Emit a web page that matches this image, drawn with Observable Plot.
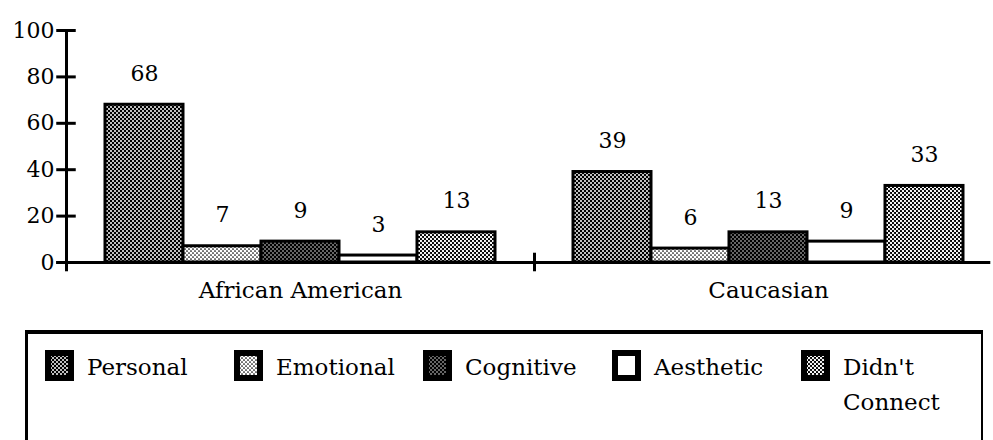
<!DOCTYPE html>
<html>
<head>
<meta charset="utf-8">
<script src="https://cdn.jsdelivr.net/npm/d3@7"></script>
<script src="https://cdn.jsdelivr.net/npm/@observablehq/plot@0.6"></script>
<style>
  html, body { margin: 0; padding: 0; background: #fff; }
  body { width: 993px; height: 440px; overflow: hidden; font-family: "DejaVu Serif", serif; color: #000; }
  #chart svg { display: block; }
  #legend {
    box-sizing: border-box;
    margin: 10px 0 0 25px;
    width: 958px;
    height: 130px;
    border-style: solid;
    border-color: #000;
    border-width: 4px 2px 3px 3px;
    padding: 16px 0 0 20px;
  }
  #legend .leg-swatches { display: flex; flex-wrap: nowrap; align-items: flex-start; margin: 0; min-height: 0; }
  #legend .leg-swatch { display: flex; align-items: flex-start; width: 189px; flex: 0 0 189px; margin: 0; line-height: 35px; white-space: normal; }
  #legend .leg-swatch svg { margin: 3px 16px 0 0; flex-shrink: 0; }
  #legend .leg-swatch svg rect { stroke: #000; stroke-width: 6px; }
</style>
</head>
<body>
<div id="chart"></div>
<div id="legend"></div>
<script>
// Response categories and the two groups compared
const groups = ["African American", "Caucasian"];
const categories = ["Personal", "Emotional", "Cognitive", "Aesthetic", "Didn't Connect"];

// Percent of each group giving each kind of response
const africanAmerican = [68, 7, 9, 3, 13];
const caucasian = [39, 6, 13, 9, 33];

// Value axis ticks
const yTicks = [0, 20, 40, 60, 80, 100];

// Halftone fills for the categories (null = plain white)
const halftones = [
  {id: "ht-personal", size: 4, bg: "#000", fg: "#fff", r: 1.0},
  {id: "ht-emotional", size: 4, bg: "#fff", fg: "#000", r: 0.85},
  {id: "ht-cognitive", size: 4, bg: "#000", fg: "#fff", r: 0.75},
  null,
  {id: "ht-didnt", size: 4, bg: "#000", fg: "#fff", r: 1.15}
];
const fills = halftones.map(h => h ? `url(#${h.id})` : "#fff");

const NS = "http://www.w3.org/2000/svg";
function halftoneDefs() {
  const defs = document.createElementNS(NS, "defs");
  for (const h of halftones) {
    if (!h) continue;
    const p = document.createElementNS(NS, "pattern");
    p.setAttribute("id", h.id);
    p.setAttribute("patternUnits", "userSpaceOnUse");
    p.setAttribute("width", h.size);
    p.setAttribute("height", h.size);
    const bg = document.createElementNS(NS, "rect");
    bg.setAttribute("width", h.size);
    bg.setAttribute("height", h.size);
    bg.setAttribute("fill", h.bg);
    p.appendChild(bg);
    for (const [cx, cy] of [[h.size / 4, h.size / 4], [3 * h.size / 4, 3 * h.size / 4]]) {
      const c = document.createElementNS(NS, "circle");
      c.setAttribute("cx", cx);
      c.setAttribute("cy", cy);
      c.setAttribute("r", h.r);
      c.setAttribute("fill", h.fg);
      p.appendChild(c);
    }
    defs.appendChild(p);
  }
  return defs;
}

// One slot per bar, with an empty slot between the groups
const stride = categories.length + 1;
const series = [africanAmerican, caucasian];
const rows = groups.flatMap((group, gi) =>
  categories.map((category, ci) => ({
    group,
    category,
    value: series[gi][ci],
    x1: gi * stride + ci + 0.5,
    x2: gi * stride + ci + 1.5
  }))
);
const tickReach = 0.125;

const chart = Plot.plot({
  width: 993,
  height: 320,
  marginTop: 30,
  marginBottom: 58,
  marginLeft: 66,
  marginRight: 0,
  style: {fontFamily: "'DejaVu Serif', serif", fontSize: "22px", color: "#000", background: "#fff"},
  x: {domain: [0, 2 * stride], range: [66, 66 + 2 * stride * 78], axis: null},
  y: {domain: [0, 100], ticks: yTicks, tickSize: 0, tickPadding: 12, label: null, tickFormat: d => String(d)},
  color: {domain: categories, range: fills},
  marks: [
    () => halftoneDefs(),
    Plot.rect(rows, {x1: "x1", x2: "x2", y1: 0, y2: "value", fill: "category", stroke: "#000", strokeWidth: 3}),
    Plot.ruleY([0], {x1: -tickReach, x2: 2 * stride - 0.15, strokeWidth: 3}),
    Plot.ruleX([0], {y1: -4, y2: 100, strokeWidth: 3}),
    Plot.ruleY(yTicks, {x1: -tickReach, x2: tickReach, strokeWidth: 3}),
    Plot.ruleX([stride], {y1: -4, y2: 4, strokeWidth: 3}),
    Plot.text(rows, {x: d => (d.x1 + d.x2) / 2, y: "value", text: d => String(d.value), dy: -31, fontSize: 22}),
    Plot.text(groups, {x: (d, i) => i * stride + 0.5 + categories.length / 2, text: d => d, frameAnchor: "bottom", dy: 35, fontSize: 23})
  ]
});
document.getElementById("chart").appendChild(chart);

const legend = Plot.legend({
  color: {domain: categories, range: fills},
  legend: "swatches",
  swatchWidth: 23,
  swatchHeight: 25,
  className: "leg",
  style: {fontFamily: "'DejaVu Serif', serif", fontSize: "23px", color: "#000"}
});
document.getElementById("legend").appendChild(legend);
</script>
</body>
</html>
